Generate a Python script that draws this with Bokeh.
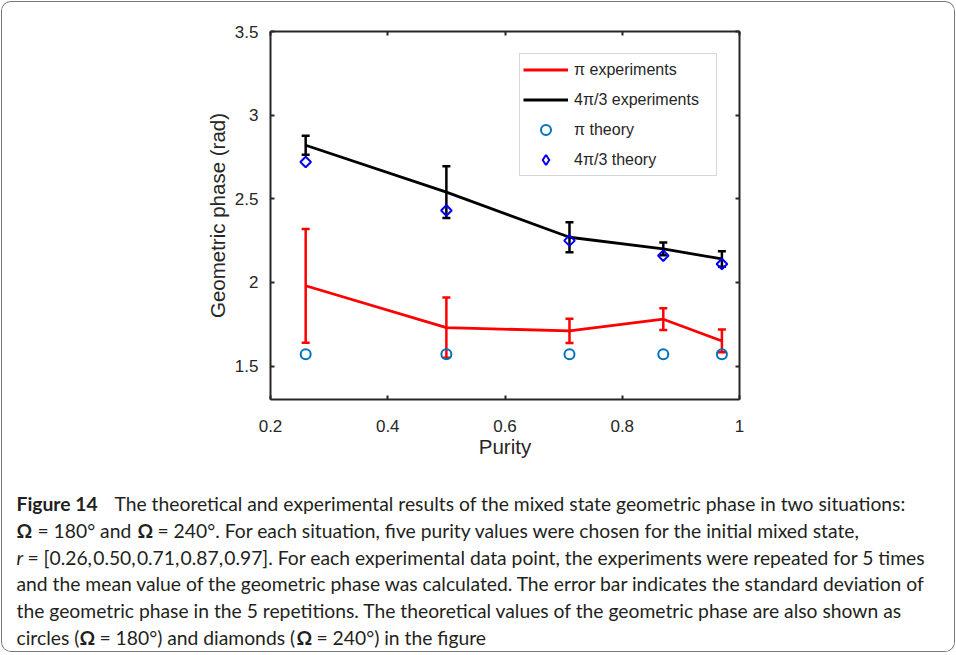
from bokeh.plotting import figure
from bokeh.models import Range1d, LinearAxis, FixedTicker, Whisker, TeeHead, ColumnDataSource
from bokeh.layouts import column
from bokeh.embed import file_html
from bokeh.resources import INLINE
from bokeh.core.properties import value

# ---------------- data ----------------
purity = [0.26, 0.50, 0.71, 0.87, 0.97]
pi_exp_mean = [1.98, 1.73, 1.71, 1.78, 1.65]
pi_exp_std = [0.34, 0.18, 0.072, 0.065, 0.068]
fp_exp_mean = [2.82, 2.54, 2.27, 2.20, 2.14]
fp_exp_std = [0.057, 0.155, 0.089, 0.038, 0.047]
pi_theory = [1.57, 1.57, 1.57, 1.57, 1.57]
fp_theory = [2.72, 2.43, 2.25, 2.16, 2.11]
series_labels = ["π experiments", "4π/3 experiments", "π theory", "4π/3 theory"]
x_ticks = [0.2, 0.4, 0.6, 0.8, 1.0]
x_tick_labels = ["0.2", "0.4", "0.6", "0.8", "1"]
y_ticks = [1.5, 2.0, 2.5, 3.0, 3.5]
y_tick_labels = ["1.5", "2", "2.5", "3", "3.5"]
x_label = "Purity"
y_label = "Geometric phase (rad)"

caption_segments = [
    ("Figure 14", 0, "bold"),
    ("The theoretical and experimental results of the mixed state geometric phase in two situations:", 0, "normal"),
    ("Ω", 1, "bold"),
    ("= 180° and", 1, "normal"),
    ("Ω", 1, "bold"),
    ("= 240°. For each situation, five purity values were chosen for the initial mixed state,", 1, "normal"),
    ("r", 2, "italic"),
    ("= [0.26,\u200a0.50,\u200a0.71,\u200a0.87,\u200a0.97]. For each experimental data point, the experiments were repeated for 5 times", 2, "normal"),
    ("and the mean value of the geometric phase was calculated. The error bar indicates the standard deviation of", 3, "normal"),
    ("the geometric phase in the 5 repetitions. The theoretical values of the geometric phase are also shown as", 4, "normal"),
    ("circles (", 5, "normal"),
    ("Ω", 5, "bold"),
    ("= 180°) and diamonds (", 5, "normal"),
    ("Ω", 5, "bold"),
    ("= 240°) in the figure", 5, "normal"),
]

# ---------------- styles / layout ----------------
AX = "#262626"
RED = "#FF0000"
BLACK = "#000000"
CIRC = "#0072BD"
DIAM = "#0000FF"
FONT = "Liberation Sans"
CAP_FONT = "Lato"
BORDER = "1px solid #777777"

W = 952
H1 = 470
H2 = 179
F_LEFT, F_TOP, F_RIGHT, F_BOTTOM = 268, 29, 737, 397   # frame in figure pixels

# caption segment left edges and line baselines (page pixels)
seg_x = [16, 114, 16, 37, 137, 157, 16, 27, 16, 16, 16, 79, 99, 296, 316]
baselines = [503.3, 530.0, 556.7, 583.3, 610.0, 636.7]
PAGE_X0 = 2
PAGE_Y0 = 2 + H1

src = ColumnDataSource(dict(
    x=purity,
    pi_m=pi_exp_mean,
    pi_lo=[m - s for m, s in zip(pi_exp_mean, pi_exp_std)],
    pi_hi=[m + s for m, s in zip(pi_exp_mean, pi_exp_std)],
    fp_m=fp_exp_mean,
    fp_lo=[m - s for m, s in zip(fp_exp_mean, fp_exp_std)],
    fp_hi=[m + s for m, s in zip(fp_exp_mean, fp_exp_std)],
    pi_t=pi_theory,
    fp_t=fp_theory,
))

p = figure(width=W, height=H1, x_range=Range1d(0.2, 1.0), y_range=Range1d(1.3, 3.5),
           output_backend="svg", toolbar_location=None,
           min_border_left=F_LEFT, min_border_right=W - F_RIGHT,
           min_border_top=F_TOP, min_border_bottom=H1 - F_BOTTOM,
           x_axis_label=x_label, y_axis_label=y_label)
p.outline_line_color = None
p.grid.visible = False
p.add_layout(LinearAxis(), "above")
p.add_layout(LinearAxis(), "right")

for ax in p.xaxis:
    ax.ticker = FixedTicker(ticks=x_ticks)
    ax.major_label_overrides = dict(zip(x_ticks, x_tick_labels))
for ax in p.yaxis:
    ax.ticker = FixedTicker(ticks=y_ticks)
    ax.major_label_overrides = dict(zip(y_ticks, y_tick_labels))
for ax in p.axis:
    ax.axis_line_color = AX
    ax.axis_line_width = 2
    ax.major_tick_line_color = AX
    ax.major_tick_line_width = 2
    ax.major_tick_in = 4
    ax.major_tick_out = 0
    ax.minor_tick_line_color = None
    ax.major_label_text_font = FONT
    ax.major_label_text_font_size = "17px"
    ax.major_label_text_color = AX
    ax.axis_label_text_font = FONT
    ax.axis_label_text_font_size = "20.5px"
    ax.axis_label_text_font_style = "normal"
    ax.axis_label_text_color = AX
for ax in (p.above[0], p.right[0]):
    ax.major_label_text_color = None
    ax.major_label_standoff = 0
p.below[0].major_label_standoff = 20
p.below[0].axis_label_standoff = 0
p.left[0].major_label_standoff = 12
p.left[0].axis_label_standoff = 3

p.line("x", "pi_m", source=src, line_color=RED, line_width=2.8, legend_label=series_labels[0])
p.line("x", "fp_m", source=src, line_color=BLACK, line_width=2.8, legend_label=series_labels[1])
p.add_layout(Whisker(source=src, base="x", lower="pi_lo", upper="pi_hi",
                     line_color=RED, line_width=2.5,
                     upper_head=TeeHead(size=8, line_color=RED, line_width=2.5),
                     lower_head=TeeHead(size=8, line_color=RED, line_width=2.5)))
p.add_layout(Whisker(source=src, base="x", lower="fp_lo", upper="fp_hi",
                     line_color=BLACK, line_width=2.5,
                     upper_head=TeeHead(size=8, line_color=BLACK, line_width=2.5),
                     lower_head=TeeHead(size=8, line_color=BLACK, line_width=2.5)))
p.scatter("x", "pi_t", source=src, marker="circle", size=10, fill_color=None,
          line_color=CIRC, line_width=2, legend_label=series_labels[2])
# legend entry for the diamonds: zero-size diamonds in the plot, the legend draws its own glyph
p.scatter("x", "fp_t", source=src, marker="diamond", size=0, fill_color=None,
          line_color=DIAM, line_width=2, legend_label=series_labels[3])
# diamonds in the plot: squares turned by 45 degrees (MATLAB-like proportions)
p.scatter("x", "fp_t", source=src, marker="square", angle=0.785398, size=7.5, fill_color=None,
          line_color=DIAM, line_width=2)

lg = p.legend[0]
lg.location = "top_right"
lg.margin = 22
lg.padding = 3
lg.spacing = 5
lg.label_height = 25
lg.glyph_height = 25
lg.glyph_width = 45
lg.label_width = 139
lg.label_standoff = 6
lg.label_text_font = FONT
lg.label_text_font_size = "16px"
lg.label_text_color = AX
lg.border_line_color = "#ADADAD"
lg.border_line_width = 1
lg.background_fill_color = "white"
lg.background_fill_alpha = 1

# ---------------- caption figure ----------------
cap = figure(width=W, height=H2, x_range=Range1d(0, W), y_range=Range1d(H2, 0),
             output_backend="svg", toolbar_location=None, min_border=0,
             x_axis_location=None, y_axis_location=None)
cap.grid.visible = False
cap.outline_line_color = None
for style in ("normal", "bold", "italic"):
    idx = [i for i, s in enumerate(caption_segments) if s[2] == style]
    cap.text(x=[seg_x[i] - PAGE_X0 for i in idx],
             y=[baselines[caption_segments[i][1]] - PAGE_Y0 for i in idx],
             text=[caption_segments[i][0] for i in idx],
             text_font=value(CAP_FONT), text_font_size=value("19.3px"), text_font_style=style,
             text_color="#231F20", text_baseline="alphabetic", text_align="left")

top = column(p, styles={"border": BORDER, "border-bottom": "none",
                        "border-radius": "10px 10px 0 0", "overflow": "hidden",
                        "margin-left": "1px", "margin-top": "1px"})
bottom = column(cap, styles={"border": BORDER, "border-top": "none",
                             "border-radius": "0 0 10px 10px", "overflow": "hidden",
                             "margin-left": "1px"})

open("out.html", "w").write(file_html([top, bottom], INLINE))
